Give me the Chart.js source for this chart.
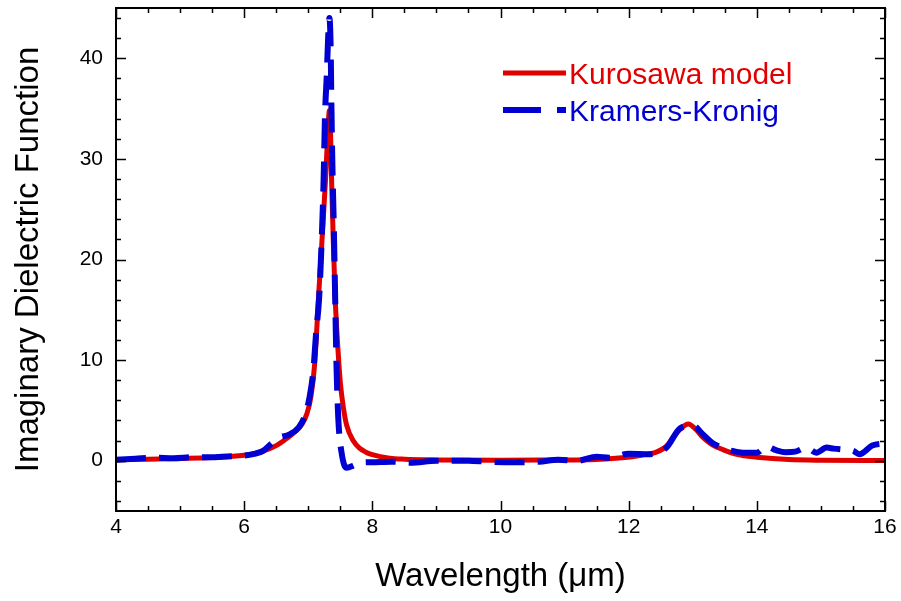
<!DOCTYPE html>
<html lang="en">
<head>
    <meta charset="UTF-8">
    <title>Imaginary Dielectric Function</title>
    <script src="https://cdn.jsdelivr.net/npm/chart.js"></script>
    <style>
        body {
            margin: 0;
            padding: 0;
            background: white;
        }
        #wrap {
            width: 901px;
            height: 601px;
        }
    </style>
</head>
<body>
    <div id="wrap">
        <canvas id="chart" width="901" height="601"></canvas>
    </div>

    <script>
        // Kurosawa model (smooth fit)
        const modelX = [4.0, 4.5, 5.0, 5.5, 6.0, 6.25, 6.5, 6.66, 6.8, 6.9, 6.98, 7.04, 7.10, 7.16, 7.22, 7.27, 7.30,
            7.32, 7.33, 7.34, 7.35, 7.36, 7.37, 7.39, 7.42, 7.45, 7.50, 7.55, 7.60, 7.70, 7.80, 7.90, 8.0, 8.27, 8.5,
            9.0, 10.0, 11.0, 11.4, 11.9, 12.2, 12.43, 12.6, 12.69, 12.8, 12.93, 13.05, 13.16, 13.3, 13.47, 13.7, 14.0,
            14.5, 15.0, 16.0];
        const modelY = [0.1, 0.15, 0.22, 0.32, 0.55, 0.85, 1.5, 2.2, 2.9, 3.6, 4.7, 6.3, 9.6, 16.2, 22.5, 28, 32,
            34.3, 34.8, 34.4, 32, 29, 26.5, 22, 16.2, 12.5, 7.8, 5.2, 3.5, 2.0, 1.25, 0.85, 0.6, 0.25, 0.15,
            0.08, 0.05, 0.08, 0.1, 0.3, 0.55, 0.85, 1.5, 2.3, 3.1, 3.65, 3.1, 2.3, 1.6, 1.1, 0.6, 0.35,
            0.12, 0.05, 0.02];

        // Kramers-Kronig (noisy)
        const kkX = [4.0, 4.3, 4.6, 4.9, 5.2, 5.5, 5.8, 6.1, 6.3, 6.44, 6.55, 6.7, 6.85, 6.95, 7.02, 7.08, 7.12, 7.17,
            7.21, 7.24, 7.26, 7.29, 7.31, 7.33, 7.35, 7.36, 7.375, 7.40, 7.42, 7.44, 7.46, 7.48, 7.52, 7.56, 7.6, 7.7,
            7.8, 8.0, 8.3, 8.6, 9.0, 9.5, 9.8, 10.2, 10.6, 10.9, 11.2, 11.5, 11.7, 12.0, 12.33, 12.59, 12.8, 13.0,
            13.16, 13.3, 13.45, 13.6, 13.78, 14.0, 14.15, 14.3, 14.45, 14.6, 14.77, 14.93, 15.09, 15.2, 15.35, 15.5,
            15.6, 15.8, 15.97];
        const kkY = [0.1, 0.2, 0.3, 0.25, 0.35, 0.35, 0.45, 0.6, 1.0, 1.8, 2.3, 2.6, 3.3, 4.5, 6.3, 9.0, 12.5, 16.2,
            22, 28, 34, 38.5, 42, 44, 41, 36, 30, 23, 16.2, 9.6, 5.5, 3.0, 0.8, -0.4, -0.7, -0.5,
            -0.2, -0.15, -0.1, -0.2, 0.0, 0.0, -0.1, -0.15, -0.1, 0.1, 0.0, 0.4, 0.3, 0.7, 0.65, 1.3, 3.2, 3.5,
            2.6, 1.8, 1.3, 1.0, 0.8, 0.8, 1.4, 1.05, 0.85, 0.9, 1.3, 0.8, 1.3, 1.2, 1.1, 1.0,
            0.65, 1.5, 1.7];

        const xTicks = [4, 4.5, 5, 5.5, 6, 6.5, 7, 7.5, 8, 8.5, 9, 9.5, 10, 10.5, 11, 11.5, 12, 12.5, 13, 13.5, 14, 14.5, 15, 15.5, 16];
        const xLabelTicks = [4, 6, 8, 10, 12, 14, 16];
        const yTicks = [-4, -2, 0, 2, 4, 6, 8, 10, 12, 14, 16, 18, 20, 22, 24, 26, 28, 30, 32, 34, 36, 38, 40, 42, 44];
        const yLabelTicks = [0, 10, 20, 30, 40];

        const seriesNames = ['Kurosawa model', 'Kramers-Kronig'];
        const RED = '#e00000';
        const BLUE = '#0000d2';
        const FONT = 'Arial, "Liberation Sans", sans-serif';

        function toPoints(xs, ys) {
            return xs.map((x, i) => ({ x: x, y: ys[i] }));
        }

        // inward ticks on all four sides + frame
        const frameTicks = {
            id: 'frameTicks',
            afterDatasetsDraw(chart) {
                const { ctx, chartArea: a, scales } = chart;
                ctx.save();
                ctx.strokeStyle = '#000';
                ctx.lineWidth = 1.5;
                ctx.beginPath();
                scales.x.ticks.forEach(t => {
                    const px = Math.round(scales.x.getPixelForValue(t.value)) + 0.5;
                    const len = xLabelTicks.includes(t.value) ? 10 : 5;
                    ctx.moveTo(px, a.bottom); ctx.lineTo(px, a.bottom - len);
                    ctx.moveTo(px, a.top); ctx.lineTo(px, a.top + len);
                });
                scales.y.ticks.forEach(t => {
                    const py = Math.round(scales.y.getPixelForValue(t.value)) + 0.5;
                    const len = yLabelTicks.includes(t.value) ? 10 : 5;
                    ctx.moveTo(a.left, py); ctx.lineTo(a.left + len, py);
                    ctx.moveTo(a.right, py); ctx.lineTo(a.right - len, py);
                });
                ctx.stroke();
                ctx.lineWidth = 2;
                ctx.strokeRect(a.left, a.top, a.right - a.left, a.bottom - a.top);
                ctx.restore();
            }
        };

        // legend in the upper right of the plot
        const insetLegend = {
            id: 'insetLegend',
            afterDraw(chart) {
                const { ctx } = chart;
                ctx.save();
                ctx.font = '30px ' + FONT;
                ctx.textBaseline = 'middle';
                ctx.lineCap = 'butt';

                ctx.strokeStyle = RED;
                ctx.lineWidth = 5;
                ctx.beginPath();
                ctx.moveTo(503, 73); ctx.lineTo(566, 73);
                ctx.stroke();
                ctx.fillStyle = RED;
                ctx.fillText(seriesNames[0], 569, 76);

                ctx.strokeStyle = BLUE;
                ctx.lineWidth = 6;
                ctx.beginPath();
                ctx.moveTo(503, 110); ctx.lineTo(541, 110);
                ctx.moveTo(557, 110); ctx.lineTo(566, 110);
                ctx.stroke();
                ctx.fillStyle = BLUE;
                ctx.fillText(seriesNames[1], 569, 113);
                ctx.restore();
            }
        };

        new Chart(document.getElementById('chart'), {
            type: 'scatter',
            data: {
                datasets: [
                    {
                        label: seriesNames[1],
                        data: toPoints(kkX, kkY),
                        showLine: true,
                        borderColor: BLUE,
                        borderWidth: 6,
                        borderDash: [30, 13],
                        pointRadius: 0,
                        cubicInterpolationMode: 'monotone',
                        order: 0
                    },
                    {
                        label: seriesNames[0],
                        data: toPoints(modelX, modelY),
                        showLine: true,
                        borderColor: RED,
                        borderWidth: 5,
                        pointRadius: 0,
                        cubicInterpolationMode: 'monotone',
                        order: 1
                    }
                ]
            },
            options: {
                responsive: false,
                animation: false,
                events: [],
                layout: {
                    padding: { top: 8, right: 16, left: 0, bottom: 0 }
                },
                plugins: {
                    legend: { display: false },
                    tooltip: { enabled: false }
                },
                scales: {
                    x: {
                        type: 'linear',
                        min: 4,
                        max: 16,
                        afterBuildTicks: s => { s.ticks = xTicks.map(v => ({ value: v })); },
                        afterFit: s => { s.height = 90; s.paddingLeft = 0; s.paddingRight = 0; },
                        grid: { display: false, drawTicks: false },
                        border: { display: false },
                        ticks: {
                            autoSkip: false,
                            maxRotation: 0,
                            padding: 4,
                            color: '#000',
                            font: { family: FONT, size: 21 },
                            callback: v => xLabelTicks.includes(v) ? String(v) : ''
                        },
                        title: {
                            display: true,
                            text: 'Wavelength (\u03bcm)',
                            color: '#000',
                            font: { family: FONT, size: 33 },
                            padding: { top: 0, bottom: 4 }
                        }
                    },
                    y: {
                        type: 'linear',
                        min: -5,
                        max: 45,
                        afterBuildTicks: s => { s.ticks = yTicks.map(v => ({ value: v })); },
                        afterFit: s => { s.width = 116; s.paddingTop = 0; s.paddingBottom = 0; },
                        grid: { display: false, drawTicks: false },
                        border: { display: false },
                        ticks: {
                            autoSkip: false,
                            padding: 13,
                            color: '#000',
                            font: { family: FONT, size: 21 },
                            callback: v => yLabelTicks.includes(v) ? String(v) : ''
                        },
                        title: {
                            display: true,
                            text: 'Imaginary Dielectric Function',
                            color: '#000',
                            font: { family: FONT, size: 33 },
                            padding: { top: 9, bottom: 0 }
                        }
                    }
                }
            },
            plugins: [frameTicks, insetLegend]
        });
    </script>
</body>
</html>
